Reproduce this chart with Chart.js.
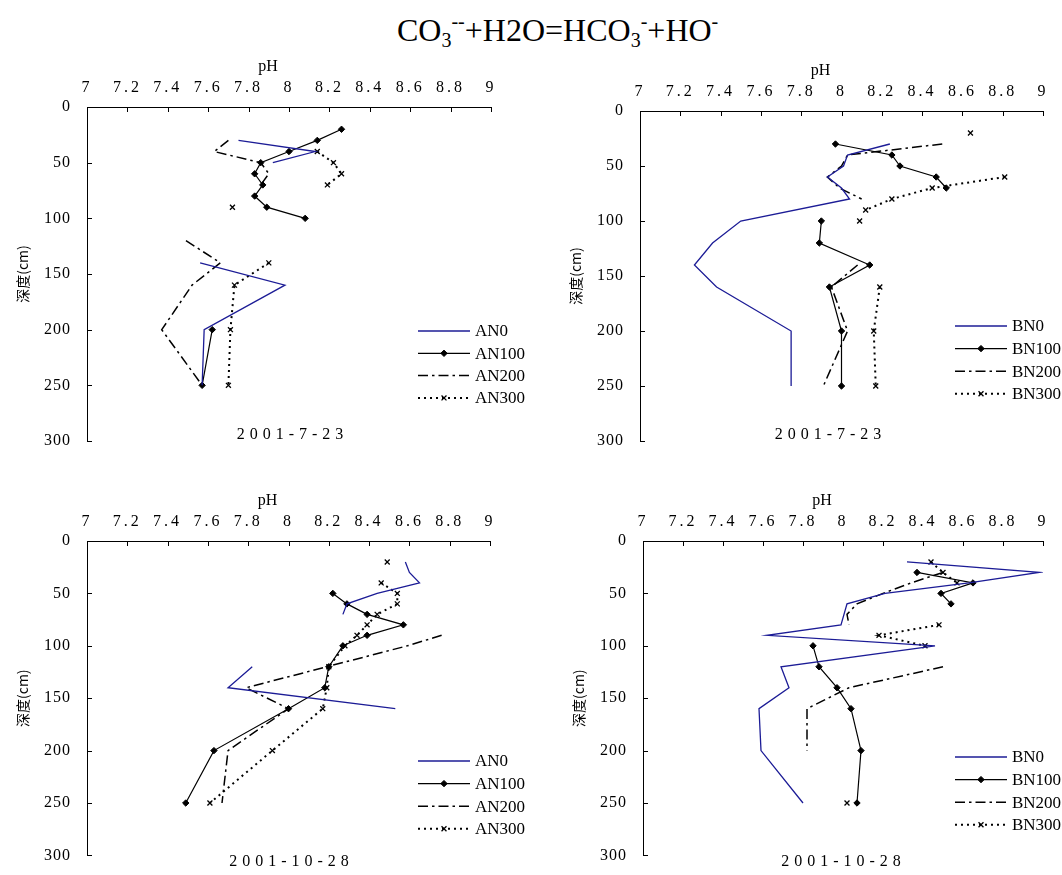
<!DOCTYPE html>
<html>
<head>
<meta charset="utf-8">
<script src="https://cdn.jsdelivr.net/npm/chart.js@4.4.0/dist/chart.umd.min.js"></script>
<style>
  body { margin: 0; background: #fff; }
  #page { position: relative; width: 1062px; height: 875px; overflow: hidden; background: #fff; }
  #title { position: absolute; left: 397px; top: 14px; font: 32px "Liberation Serif", serif; line-height: 1; white-space: nowrap; color: #000; }
  #title sub { font-size: 20px; vertical-align: -6px; line-height: 0; }
  #title sup { font-size: 20px; vertical-align: 13px; line-height: 0; }
  canvas { position: absolute; }
</style>
</head>
<body>
<div id="page">
  <div id="title">CO<sub>3</sub><sup>--</sup>+H2O=HCO<sub>3</sub><sup>-</sup>+HO<sup>-</sup></div>
  <canvas id="p1" width="531" height="420" style="left:0px;top:55px"></canvas>
  <canvas id="p2" width="509" height="416" style="left:553px;top:59px"></canvas>
  <canvas id="p3" width="531" height="392" style="left:0px;top:489px"></canvas>
  <canvas id="p4" width="506" height="392" style="left:556px;top:489px"></canvas>
</div>
<script>
// axis ticks
var PH_TICKS = [7, 7.2, 7.4, 7.6, 7.8, 8, 8.2, 8.4, 8.6, 8.8, 9];
var DEPTH_TICKS = [0, 50, 100, 150, 200, 250, 300];

// 2001-7-23, AN plots (depth cm / pH); null = break in the line
var JUL_AN0_D = [30, 40, 50, null, 140, 160, 200, 250];
var JUL_AN0_PH = [7.75, 8.13, 7.92, null, 7.56, 7.98, 7.58, 7.57];
var JUL_AN100_D = [20, 30, 40, 50, 60, 70, 80, 90, 100, null, 200, 250];
var JUL_AN100_PH = [8.26, 8.14, 8.0, 7.86, 7.83, 7.87, 7.83, 7.89, 8.08, null, 7.62, 7.57];
var JUL_AN200_D = [30, 40, 50, 60, 70, null, 120, 140, 160, 200, 250];
var JUL_AN200_PH = [7.7, 7.63, 7.86, 7.9, 7.86, null, 7.49, 7.66, 7.52, 7.37, 7.57];
var JUL_AN300_D = [40, 50, 60, 70, null, 90, null, 140, 160, 200, 250];
var JUL_AN300_PH = [8.14, 8.22, 8.26, 8.19, null, 7.72, null, 7.9, 7.73, 7.71, 7.7];

// 2001-7-23, BN plots
var JUL_BN0_D = [30, 40, 50, 60, 70, 80, 100, 120, 140, 160, 200, 250];
var JUL_BN0_PH = [8.24, 8.03, 8.01, 7.93, 8.0, 8.04, 7.5, 7.36, 7.27, 7.38, 7.75, 7.75];
var JUL_BN100_D = [30, 40, 50, 60, 70, null, 100, 120, 140, 160, 200, 250];
var JUL_BN100_PH = [7.97, 8.25, 8.29, 8.47, 8.52, null, 7.9, 7.89, 8.14, 7.94, 8.0, 8.0];
var JUL_BN200_D = [30, 40, 50, 60, 70, 80, null, 140, 160, 200, 250];
var JUL_BN200_PH = [8.5, 8.03, 8.0, 7.93, 7.99, 8.1, null, 8.08, 7.95, 8.03, 7.91];
var JUL_BN300_D = [20, null, 60, 70, 80, 90, null, 100, null, 160, 200, 250];
var JUL_BN300_PH = [8.64, null, 8.81, 8.45, 8.25, 8.12, null, 8.09, null, 8.19, 8.16, 8.17];

// 2001-10-28, AN plots
var OCT_AN0_D = [20, 30, 40, 50, 60, 70, null, 120, 140, 160];
var OCT_AN0_PH = [8.58, 8.6, 8.65, 8.44, 8.29, 8.27, null, 7.82, 7.7, 8.53];
var OCT_AN100_D = [50, 60, 70, 80, 90, 100, 120, 140, 160, 200, 250];
var OCT_AN100_PH = [8.22, 8.29, 8.39, 8.57, 8.39, 8.27, 8.2, 8.18, 8.0, 7.63, 7.49];
var OCT_AN200_D = [90, 100, 120, 140, 160, 200, 250];
var OCT_AN200_PH = [8.76, 8.59, 8.19, 7.79, 8.0, 7.7, 7.67];
var OCT_AN300_D = [20, null, 40, 50, 60, 70, 80, 90, 100, 120, 140, 160, 200, 250];
var OCT_AN300_PH = [8.49, null, 8.46, 8.54, 8.54, 8.44, 8.39, 8.34, 8.28, 8.2, 8.19, 8.17, 7.92, 7.61];

// 2001-10-28, BN plots
var OCT_BN0_D = [20, 30, 40, 50, 60, 80, 90, 100, 120, 140, 160, 200, 250];
var OCT_BN0_PH = [8.32, 8.98, 8.63, 8.21, 8.02, 7.99, 7.62, 8.46, 7.69, 7.73, 7.58, 7.59, 7.8];
var OCT_BN100_D = [30, 40, 50, 60, null, 100, 120, 140, 160, 200, 250];
var OCT_BN100_PH = [8.37, 8.65, 8.49, 8.54, null, 7.85, 7.88, 7.97, 8.04, 8.09, 8.07];
var OCT_BN200_D = [30, 40, 50, 60, 70, 80, null, 120, 140, 160, 200];
var OCT_BN200_PH = [8.5, 8.34, 8.2, 8.07, 8.02, 8.03, null, 8.5, 8.03, 7.82, 7.82];
var OCT_BN300_D = [20, 30, 40, null, 80, 90, 100, null, 250];
var OCT_BN300_PH = [8.44, 8.5, 8.57, null, 8.48, 8.18, 8.41, null, 8.02];

var SERIF = '"Liberation Serif", "Times New Roman", serif';

// line styles for N0 / N100 / N200 / N300
var STYLES = [
  { borderColor: '#1c1c96', borderWidth: 1.3, borderDash: [], pointRadius: 0 },
  { borderColor: '#000', borderWidth: 1.2, borderDash: [], pointStyle: 'rectRot', pointRadius: 3.2,
    pointBackgroundColor: '#000', pointBorderColor: '#000', pointBorderWidth: 1 },
  { borderColor: '#000', borderWidth: 1.5, borderDash: [10, 4, 2.5, 4], pointRadius: 0 },
  { borderColor: '#000', borderWidth: 2, borderDash: [2, 4], pointStyle: 'crossRot', pointRadius: 3.5,
    pointBackgroundColor: '#000', pointBorderColor: '#000', pointBorderWidth: 1.3 }
];

function toPoints(depth, ph) {
  return depth.map(function (d, i) { return { x: ph[i], y: d }; });
}

// widen the tick label glyph spacing of one axis
function spaceLabels(scale, spacing) {
  if (scale._labelSpacing === spacing) return;
  var draw = scale.drawLabels;
  scale.drawLabels = function (area) {
    var c = this.ctx;
    c.save();
    c.letterSpacing = spacing;
    draw.call(this, area);
    c.restore();
  };
  scale._labelSpacing = spacing;
}

// inward ticks, pH caption, date and the key box
var panelDecor = {
  id: 'panelDecor',
  afterDraw: function (chart, args, opts) {
    var ctx = chart.ctx, area = chart.chartArea;
    var xs = chart.scales.x, ys = chart.scales.y;
    ctx.save();
    ctx.strokeStyle = '#000';
    ctx.lineWidth = 1;
    ctx.beginPath();
    xs.ticks.forEach(function (t) {
      var px = Math.round(xs.getPixelForValue(t.value)) + 0.5;
      ctx.moveTo(px, area.top);
      ctx.lineTo(px, area.top + 5);
    });
    ys.ticks.forEach(function (t) {
      var py = Math.round(ys.getPixelForValue(t.value)) + 0.5;
      ctx.moveTo(area.left, py);
      ctx.lineTo(area.left + 5, py);
    });
    ctx.stroke();

    ctx.fillStyle = '#000';
    ctx.textAlign = 'center';
    ctx.textBaseline = 'middle';
    ctx.font = '16px ' + SERIF;
    ctx.fillText('pH', (area.left + area.right) / 2 - 21, area.top - 40);

    ctx.font = '16px ' + SERIF;
    ctx.letterSpacing = '5px';
    ctx.fillText(opts.date, opts.dateX + 2.5, opts.dateY);
    ctx.letterSpacing = '0px';

    ctx.font = '17px ' + SERIF;
    ctx.textAlign = 'left';
    chart.data.datasets.forEach(function (ds, i) {
      var y = opts.keyY + i * opts.keyGap;
      ctx.save();
      ctx.strokeStyle = ds.borderColor;
      ctx.lineWidth = ds.borderWidth;
      ctx.setLineDash(ds.borderDash || []);
      ctx.beginPath();
      ctx.moveTo(opts.keyX, y);
      ctx.lineTo(opts.keyX + 52, y);
      ctx.stroke();
      ctx.setLineDash([]);
      if (ds.pointRadius > 0 && Chart.helpers && Chart.helpers.drawPoint) {
        ctx.fillStyle = '#000';
        ctx.strokeStyle = '#000';
        ctx.lineWidth = ds.pointBorderWidth;
        Chart.helpers.drawPoint(ctx, {
          pointStyle: ds.pointStyle, radius: ds.pointRadius,
          borderWidth: ds.pointBorderWidth, rotation: 0
        }, opts.keyX + 26, y);
      }
      ctx.restore();
      ctx.fillText(ds.label, opts.keyX + 57, y + 1);
    });
    ctx.restore();
  }
};

function makePanel(id, names, series, pad, decor) {
  var datasets = series.map(function (s, i) {
    var st = STYLES[i];
    var ds = { label: names[i], data: toPoints(s[0], s[1]), fill: false, tension: 0,
      pointHoverRadius: 0, spanGaps: false };
    Object.keys(st).forEach(function (k) { ds[k] = st[k]; });
    return ds;
  });

  return new Chart(document.getElementById(id), {
    type: 'line',
    data: { datasets: datasets },
    options: {
      responsive: false,
      animation: false,
      events: [],
      layout: { padding: { left: 0, top: 0, right: pad.right, bottom: pad.bottom } },
      plugins: {
        legend: { display: false },
        tooltip: { enabled: false },
        panelDecor: decor
      },
      scales: {
        x: {
          type: 'linear',
          position: 'top',
          min: 7,
          max: 9,
          afterFit: function (s) { s.height = 52; spaceLabels(s, '3px'); },
          afterBuildTicks: function (s) { s.ticks = PH_TICKS.map(function (v) { return { value: v }; }); },
          ticks: {
            autoSkip: false,
            maxRotation: 0,
            padding: 10,
            color: '#000',
            font: { family: SERIF, size: 16 },
            callback: function (v) { return v % 1 === 0 ? String(v) : v.toFixed(1); }
          },
          grid: { display: false, drawTicks: false },
          border: { display: true, color: '#000', width: 1 }
        },
        y: {
          type: 'linear',
          position: 'left',
          reverse: true,
          min: 0,
          max: 300,
          afterFit: function (s) { s.width = 87; spaceLabels(s, '1px'); },
          afterBuildTicks: function (s) { s.ticks = DEPTH_TICKS.map(function (v) { return { value: v }; }); },
          ticks: {
            padding: 16,
            color: '#000',
            font: { family: SERIF, size: 16 }
          },
          grid: { display: false, drawTicks: false },
          border: { display: true, color: '#000', width: 1 },
          title: {
            display: true,
            text: '深度(cm)',
            color: '#000',
            font: { family: '"Noto Sans CJK SC", sans-serif', size: 14 },
            padding: { top: 14, bottom: 0 }
          }
        }
      }
    },
    plugins: [panelDecor]
  });
}

makePanel('p1', ['AN0', 'AN100', 'AN200', 'AN300'], [
  [JUL_AN0_D, JUL_AN0_PH], [JUL_AN100_D, JUL_AN100_PH],
  [JUL_AN200_D, JUL_AN200_PH], [JUL_AN300_D, JUL_AN300_PH]
], { right: 40, bottom: 34 }, { date: '2001-7-23', dateX: 290, dateY: 380, keyX: 418, keyY: 276, keyGap: 22.3 });

makePanel('p2', ['BN0', 'BN100', 'BN200', 'BN300'], [
  [JUL_BN0_D, JUL_BN0_PH], [JUL_BN100_D, JUL_BN100_PH],
  [JUL_BN200_D, JUL_BN200_PH], [JUL_BN300_D, JUL_BN300_PH]
], { right: 19, bottom: 34 }, { date: '2001-7-23', dateX: 275, dateY: 376, keyX: 402, keyY: 267, keyGap: 22.6 });

makePanel('p3', ['AN0', 'AN100', 'AN200', 'AN300'], [
  [OCT_AN0_D, OCT_AN0_PH], [OCT_AN100_D, OCT_AN100_PH],
  [OCT_AN200_D, OCT_AN200_PH], [OCT_AN300_D, OCT_AN300_PH]
], { right: 41, bottom: 12 }, { date: '2001-10-28', dateX: 289, dateY: 373, keyX: 418, keyY: 272, keyGap: 22.6 });

makePanel('p4', ['BN0', 'BN100', 'BN200', 'BN300'], [
  [OCT_BN0_D, OCT_BN0_PH], [OCT_BN100_D, OCT_BN100_PH],
  [OCT_BN200_D, OCT_BN200_PH], [OCT_BN300_D, OCT_BN300_PH]
], { right: 19, bottom: 12 }, { date: '2001-10-28', dateX: 285, dateY: 373, keyX: 399, keyY: 268, keyGap: 22.6 });
</script>
</body>
</html>
